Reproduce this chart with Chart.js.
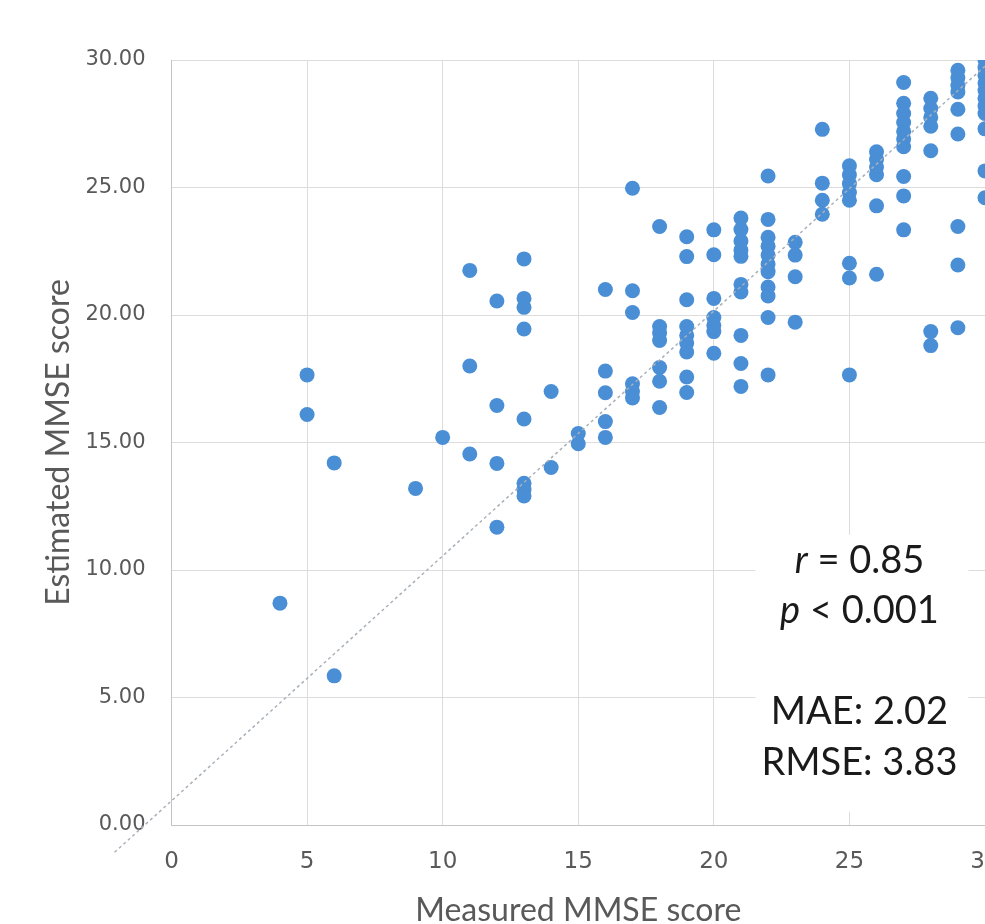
<!DOCTYPE html>
<html>

<head>
    <meta charset="utf-8">
    <title>Measured vs estimated MMSE score</title>
    <script src="https://cdn.jsdelivr.net/npm/chart.js"></script>
    <style>
        html, body { margin: 0; padding: 0; background: #fff; overflow: hidden; }
        #wrap { width: 985px; height: 924px; overflow: hidden; }
    </style>
</head>

<body>
    <div id="wrap"><canvas id="chart" width="1040" height="940"></canvas></div>
    <script>
        // measured score (x) and the estimated scores read off at that x
        var measuredCols = [4, 5, 6, 9, 10, 11, 12, 13, 14, 15, 16, 17, 18, 19, 20, 21, 22, 23, 24, 25, 26, 27, 28, 29, 30];
        var estimatedByCol = [
            [8.7],
            [17.65, 16.1],
            [14.2, 5.85],
            [13.2],
            [15.2],
            [21.75, 18.0, 14.55],
            [20.55, 16.45, 14.18, 11.68],
            [22.2, 20.65, 20.3, 19.45, 15.92, 13.4, 13.15, 12.9],
            [17.0, 14.02],
            [15.35, 14.95],
            [21.0, 17.8, 16.95, 15.82, 15.2],
            [24.97, 20.95, 20.1, 17.3, 17.0, 16.75],
            [23.47, 19.55, 19.3, 19.0, 17.94, 17.4, 16.37],
            [23.07, 22.29, 20.6, 19.55, 19.2, 18.9, 18.55, 17.57, 16.96],
            [23.34, 22.36, 20.65, 19.9, 19.6, 19.35, 18.5],
            [23.8, 23.35, 22.9, 22.55, 22.3, 21.2, 20.9, 19.2, 18.1, 17.2],
            [25.45, 23.75, 23.05, 22.7, 22.35, 22.0, 21.7, 21.1, 20.75, 19.9, 17.65],
            [22.85, 22.35, 21.5, 19.72],
            [27.28, 25.17, 24.5, 23.95],
            [25.85, 25.5, 25.15, 24.8, 24.5, 22.03, 21.45, 17.65],
            [26.4, 26.1, 25.8, 25.5, 24.28, 21.6],
            [29.12, 28.3, 27.9, 27.55, 27.2, 26.9, 26.6, 25.43, 24.67, 23.34],
            [28.5, 28.1, 27.75, 27.4, 26.44, 19.35, 18.8],
            [29.6, 29.3, 29.0, 28.75, 28.07, 27.1, 23.47, 21.96, 19.5],
            [30.0, 29.7, 29.4, 29.1, 28.8, 28.5, 28.2, 27.9, 27.3, 25.65, 24.6]
        ];

        // dotted linear trend line, end points
        var trendX = [-2.1, 30];
        var trendY = [-1.07, 29.76];

        var xTicks = [0, 5, 10, 15, 20, 25, 30];
        var yTicks = [0, 5, 10, 15, 20, 25, 30];

        var statLines = [
            [['r', true], [' = 0.85', false]],
            [['p', true], [' < 0.001', false]],
            [],
            [['MAE: 2.02', false]],
            [['RMSE: 3.83', false]]
        ];

        var points = [];
        measuredCols.forEach(function (mx, i) {
            estimatedByCol[i].forEach(function (ey) {
                points.push({ x: mx, y: ey });
            });
        });
        var trend = trendX.map(function (v, i) { return { x: v, y: trendY[i] }; });

        var statsBox = {
            id: 'statsBox',
            beforeDatasetsDraw: function (chart) {
                var ctx = chart.ctx, x = chart.scales.x, y = chart.scales.y;
                var l = x.getPixelForValue(21.53), r = x.getPixelForValue(29.39);
                var t = y.getPixelForValue(11.38), b = y.getPixelForValue(0.52);
                ctx.save();
                ctx.fillStyle = '#ffffff';
                ctx.fillRect(l, t, r - l, b - t);
                ctx.restore();
            },
            afterDatasetsDraw: function (chart) {
                var ctx = chart.ctx, x = chart.scales.x, y = chart.scales.y;
                var cx = x.getPixelForValue(25.37);
                var base = y.getPixelForValue(9.9);
                ctx.save();
                ctx.fillStyle = '#1a1a1a';
                ctx.textBaseline = 'alphabetic';
                ctx.textAlign = 'left';
                statLines.forEach(function (runs, i) {
                    var total = 0;
                    runs.forEach(function (run) {
                        ctx.font = (run[1] ? 'italic ' : '') + '38px Lato';
                        total += ctx.measureText(run[0]).width;
                    });
                    var px = cx - total / 2;
                    runs.forEach(function (run) {
                        ctx.font = (run[1] ? 'italic ' : '') + '38px Lato';
                        ctx.fillText(run[0], px, base + i * 50.5);
                        px += ctx.measureText(run[0]).width;
                    });
                });
                ctx.restore();
            }
        };

        var ctx = document.getElementById('chart').getContext('2d');
        var chart = new Chart(ctx, {
            type: 'scatter',
            data: {
                datasets: [{
                    type: 'line',
                    data: trend,
                    borderColor: '#a9b0ba',
                    borderWidth: 1.5,
                    borderDash: [3, 3],
                    pointRadius: 0,
                    fill: false,
                    clip: false
                }, {
                    data: points,
                    backgroundColor: '#4a8fd5',
                    borderWidth: 0,
                    pointRadius: 7.5
                }]
            },
            options: {
                responsive: false,
                animation: false,
                layout: { padding: { left: 0, top: 60, right: 55, bottom: 0 } },
                plugins: {
                    legend: { display: false },
                    tooltip: { enabled: false }
                },
                scales: {
                    x: {
                        type: 'linear',
                        min: 0,
                        max: 30,
                        afterBuildTicks: function (s) { s.ticks = xTicks.map(function (v) { return { value: v }; }); },
                        afterFit: function (s) { s.height = 115; },
                        grid: { color: '#dcdcdc', drawTicks: false },
                        border: { color: '#c4c4c4' },
                        ticks: {
                            padding: 23,
                            color: '#595959',
                            font: { family: 'DejaVu Sans', size: 23 }
                        },
                        title: {
                            display: true,
                            text: 'Measured MMSE score',
                            color: '#595959',
                            font: { family: 'Lato', size: 32 },
                            padding: { top: 0, bottom: 10 }
                        }
                    },
                    y: {
                        min: 0,
                        max: 30,
                        afterBuildTicks: function (s) { s.ticks = yTicks.map(function (v) { return { value: v }; }); },
                        afterFit: function (s) { s.width = 171.5; },
                        grid: { color: '#dcdcdc', drawTicks: false },
                        border: { color: '#c4c4c4' },
                        ticks: {
                            padding: 26,
                            color: '#595959',
                            font: { family: 'DejaVu Sans', size: 21 },
                            callback: function (v) { return v.toFixed(2); }
                        },
                        title: {
                            display: true,
                            text: 'Estimated MMSE score',
                            color: '#595959',
                            font: { family: 'Lato', size: 32 },
                            padding: { top: 39, bottom: 0 }
                        }
                    }
                }
            },
            plugins: [statsBox]
        });
    </script>
</body>

</html>
